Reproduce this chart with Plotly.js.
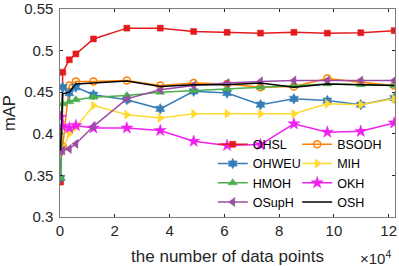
<!DOCTYPE html>
<html>
<head>
<meta charset="utf-8">
<script src="https://cdn.plot.ly/plotly-3.0.1.min.js"></script>
<style>html,body{margin:0;padding:0;background:#fff;}#chart{width:399px;height:266px;}</style>
</head>
<body>
<div id="chart"></div>
<script>
// number of data points (x)
var xPoints = [200, 1000, 3400, 5800, 12200, 24400, 36600, 48800, 61000, 73200, 85400, 97600, 109800, 122000];
var OHSL   = [0.342, 0.474, 0.489, 0.496, 0.514, 0.527, 0.527, 0.523, 0.522, 0.521, 0.522, 0.521, 0.5215, 0.524];
var BSODH  = [0.380, 0.385, 0.458, 0.463, 0.463, 0.464, 0.458, 0.461, 0.460, 0.456, 0.457, 0.4665, 0.462, 0.458];
var OHWEU  = [0.347, 0.456, 0.449, 0.456, 0.447, 0.441, 0.430, 0.451, 0.449, 0.435, 0.442, 0.440, 0.435, 0.443];
var MIH    = [0.376, 0.381, 0.400, 0.408, 0.434, 0.423, 0.419, 0.424, 0.424, 0.424, 0.424, 0.436, 0.435, 0.442];
var HMOH   = [0.347, 0.436, 0.4385, 0.441, 0.444, 0.446, 0.450, 0.452, 0.454, 0.456, 0.458, 0.460, 0.459, 0.458];
var OKH    = [0.420, 0.409, 0.407, 0.410, 0.407, 0.407, 0.404, 0.391, 0.386, 0.387, 0.412, 0.402, 0.403, 0.413];
var OSupH  = [0.379, 0.380, 0.382, 0.388, 0.409, 0.442, 0.453, 0.458, 0.461, 0.463, 0.464, 0.464, 0.464, 0.464];
var OSH    = [0.380, 0.448, 0.450, 0.460, 0.461, 0.4635, 0.457, 0.459, 0.459, 0.461, 0.456, 0.460, 0.459, 0.458];

var xTickVals = [0, 20000, 40000, 60000, 80000, 100000, 120000];
var xTickText = ['0', '2', '4', '6', '8', '10', '12'];
var yTickVals = [0.3, 0.35, 0.4, 0.45, 0.5, 0.55];
var yTickText = ['0.3', '0.35', '0.4', '0.45', '0.5', '0.55'];

var series = [
  {name: 'OHSL',  y: OHSL,  color: '#e41a1c', symbol: 'square',         size: 6, legend: 'legend'},
  {name: 'BSODH', y: BSODH, color: '#ff7f00', symbol: 'circle-open',    size: 7, legend: 'legend2'},
  {name: 'OHWEU', y: OHWEU, color: '#377eb8', symbol: 'hexagram',       size: 8, legend: 'legend'},
  {name: 'MIH',   y: MIH,   color: '#ffd92f', symbol: 'triangle-right', size: 8, legend: 'legend2'},
  {name: 'HMOH',  y: HMOH,  color: '#4daf4a', symbol: 'triangle-up',    size: 8, legend: 'legend'},
  {name: 'OKH',   y: OKH,   color: '#f020f0', symbol: 'star',           size: 9, legend: 'legend2'},
  {name: 'OSupH', y: OSupH, color: '#984ea3', symbol: 'triangle-left',  size: 8, legend: 'legend'},
  {name: 'OSH',   y: OSH,   color: '#000000', symbol: null,             size: 0, legend: 'legend2'}
];

var traces = series.map(function (s) {
  var t = {
    type: 'scatter',
    x: xPoints,
    y: s.y,
    name: s.name,
    legend: s.legend,
    line: {color: s.color, width: 1.5},
    mode: s.symbol ? 'lines+markers' : 'lines'
  };
  if (s.symbol) {
    t.marker = {symbol: s.symbol, size: s.size, color: s.color,
                line: {color: s.color, width: s.symbol === 'circle-open' ? 1.5 : 0.5}};
  }
  return t;
});

var axisColor = '#262626';
var legendCommon = {
  yanchor: 'top', xanchor: 'left',
  bgcolor: 'rgba(0,0,0,0)', borderwidth: 0,
  font: {size: 12.5, color: '#000'}, itemwidth: 30, tracegroupgap: 0
};
var layout = {
  width: 399, height: 266,
  margin: {l: 60, r: 4, t: 9, b: 49},
  paper_bgcolor: '#fff', plot_bgcolor: '#fff',
  font: {family: 'Liberation Sans, Arial, sans-serif', color: axisColor},
  showlegend: true,
  xaxis: {
    range: [0, 122300],
    tickvals: xTickVals, ticktext: xTickText,
    ticks: 'inside', ticklen: 3, tickcolor: axisColor,
    showline: true, linecolor: axisColor, linewidth: 0.6, mirror: 'ticks',
    showgrid: false, zeroline: false,
    tickfont: {size: 15, color: axisColor},
    title: {text: 'the number of data points', font: {size: 17, color: axisColor}, standoff: 13}
  },
  yaxis: {
    range: [0.3, 0.55],
    tickvals: yTickVals, ticktext: yTickText,
    ticks: 'inside', ticklen: 3, tickcolor: axisColor,
    showline: true, linecolor: axisColor, linewidth: 0.6, mirror: 'ticks',
    showgrid: false, zeroline: false,
    tickfont: {size: 15, color: axisColor},
    ticklabelstandoff: 3,
    title: {text: 'mAP', font: {size: 16.5, color: axisColor}, standoff: 6}
  },
  legend: Object.assign({x: 0.456, y: 0.42}, legendCommon),
  legend2: Object.assign({x: 0.708, y: 0.42}, legendCommon),
  annotations: [{
    xref: 'paper', yref: 'paper', x: 0.995, y: -0.138, xanchor: 'right', yanchor: 'top',
    text: '×10<sup>4</sup>', showarrow: false, font: {size: 15, color: axisColor}
  }]
};

Plotly.newPlot('chart', traces, layout, {displayModeBar: false, staticPlot: true});
</script>
</body>
</html>
